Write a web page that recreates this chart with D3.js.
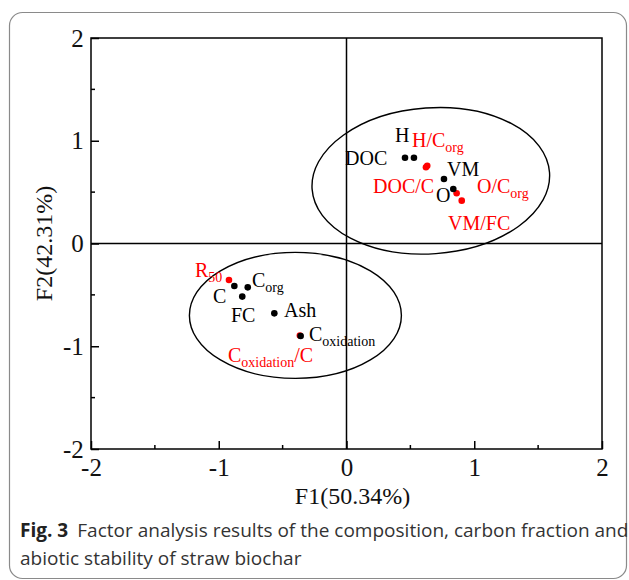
<!DOCTYPE html>
<html lang="en">
<head>
<meta charset="UTF-8">
<title>Factor analysis of straw biochar</title>
<script src="https://d3js.org/d3.v7.min.js"></script>
<style>
  body { margin: 0; background: #fff; }
  svg { display: block; }
  .tick-label { font-family: "Liberation Serif", "Times New Roman", serif; font-size: 25px; fill: #111; }
  .axis-title { font-family: "Liberation Serif", "Times New Roman", serif; font-size: 24px; fill: #111; }
  .pt-label { font-family: "Liberation Serif", "Times New Roman", serif; font-size: 20px; }
  .caption { font-family: "Open Sans", "Noto Sans", sans-serif; font-size: 19px; fill: #333; }
</style>
</head>
<body>
<div id="chart"></div>
<script>
  // variable names and their loadings on F1 / F2
  const blackNames = ["DOC", "H", "VM", "O", "R_C", "C_org", "FC", "Ash", "C_oxidation"];
  const blackF1 = [0.458, 0.528, 0.763, 0.836, -0.878, -0.773, -0.816, -0.565, -0.359];
  const blackF2 = [0.835, 0.835, 0.628, 0.530, -0.414, -0.427, -0.517, -0.680, -0.900];

  const redNames = ["H/C_org", "DOC/C", "O/C_org", "VM/FC", "R50", "C_oxidation/C"];
  const redF1 = [0.632, 0.622, 0.862, 0.902, -0.920, -0.365];
  const redF2 = [0.757, 0.742, 0.489, 0.417, -0.355, -0.895];

  const ticks = [-2, -1, 0, 1, 2];
  const minorTicks = [-1.5, -0.5, 0.5, 1.5];

  const width = 629, height = 580;
  const svg = d3.select("#chart").append("svg").attr("width", width).attr("height", height);

  // outer frame of the figure
  svg.append("rect")
    .attr("x", 9.5).attr("y", 12.5)
    .attr("width", 617).attr("height", 566)
    .attr("rx", 13)
    .attr("fill", "none").attr("stroke", "#8a8a8a").attr("stroke-width", 1.2);

  const x = d3.scaleLinear().domain([-2, 2]).range([91, 602]);
  const y = d3.scaleLinear().domain([-2, 2]).range([449, 38]);

  // zero lines
  svg.append("line").attr("x1", x(0)).attr("x2", x(0)).attr("y1", y(2)).attr("y2", y(-2))
    .attr("stroke", "#000").attr("stroke-width", 1.5);
  svg.append("line").attr("x1", x(-2)).attr("x2", x(2)).attr("y1", y(0)).attr("y2", y(0))
    .attr("stroke", "#000").attr("stroke-width", 1.5);

  // ellipses grouping the variables
  svg.append("ellipse")
    .attr("transform", `translate(${x(0.66)},${y(0.61)}) rotate(-4)`)
    .attr("rx", 119).attr("ry", 73)
    .attr("fill", "none").attr("stroke", "#000").attr("stroke-width", 1.4);
  svg.append("ellipse")
    .attr("transform", `translate(${x(-0.4)},${y(-0.7)})`)
    .attr("rx", 106).attr("ry", 63)
    .attr("fill", "none").attr("stroke", "#000").attr("stroke-width", 1.4);

  // axes: ticks pointing inward, labels only on integers
  const fmt = d => String(d);
  const xAxis = d3.axisBottom(x).tickValues(ticks).tickSizeInner(-8).tickSizeOuter(0).tickPadding(6).tickFormat(fmt);
  const yAxis = d3.axisLeft(y).tickValues(ticks).tickSizeInner(-8).tickSizeOuter(0).tickPadding(6).tickFormat(fmt);

  const gx = svg.append("g").attr("transform", `translate(0,${y(-2)})`).call(xAxis);
  const gy = svg.append("g").attr("transform", `translate(${x(-2)},0)`).call(yAxis);
  [gx, gy].forEach(g => {
    g.select(".domain").remove();
    g.selectAll("line").attr("stroke", "#000").attr("stroke-width", 1.5);
    g.selectAll("text").attr("class", "tick-label").attr("font-family", null).attr("font-size", null);
  });
  gx.selectAll("text").attr("dy", "0.85em");
  gy.selectAll("text").attr("dx", "-0.05em");

  gx.selectAll(".minor").data(minorTicks).join("line")
    .attr("x1", d => x(d)).attr("x2", d => x(d)).attr("y1", 0).attr("y2", -4)
    .attr("stroke", "#000").attr("stroke-width", 1.5);
  gy.selectAll(".minor").data(minorTicks).join("line")
    .attr("y1", d => y(d)).attr("y2", d => y(d)).attr("x1", 0).attr("x2", 4)
    .attr("stroke", "#000").attr("stroke-width", 1.5);

  // plot frame
  svg.append("rect")
    .attr("x", x(-2)).attr("y", y(2))
    .attr("width", x(2) - x(-2)).attr("height", y(-2) - y(2))
    .attr("fill", "none").attr("stroke", "#000").attr("stroke-width", 1.5);

  svg.append("text").attr("class", "axis-title")
    .attr("x", x(0) + 6).attr("y", 504).attr("text-anchor", "middle")
    .text("F1(50.34%)");
  svg.append("text").attr("class", "axis-title")
    .attr("transform", `translate(52,${y(0)}) rotate(-90)`).attr("text-anchor", "middle")
    .text("F2(42.31%)");

  // points
  svg.append("g").selectAll("circle").data(redNames).join("circle")
    .attr("cx", (d, i) => x(redF1[i])).attr("cy", (d, i) => y(redF2[i]))
    .attr("r", 3.3).attr("fill", "#f00");
  svg.append("g").selectAll("circle").data(blackNames).join("circle")
    .attr("cx", (d, i) => x(blackF1[i])).attr("cy", (d, i) => y(blackF2[i]))
    .attr("r", 3.3).attr("fill", "#000");

  // point labels: name, [main, subscript, tail], x, baseline y
  const labelColor = n => redNames.includes(n) ? "#f00" : "#000";
  const labels = [
    ["DOC", ["DOC", "", ""], 345, 165],
    ["H", ["H", "", ""], 395, 142],
    ["H/C_org", ["H/C", "org", ""], 412, 147],
    ["VM", ["VM", "", ""], 447, 176],
    ["DOC/C", ["DOC/C", "", ""], 373, 193],
    ["O", ["O", "", ""], 436, 202],
    ["O/C_org", ["O/C", "org", ""], 477, 193],
    ["VM/FC", ["VM/FC", "", ""], 448, 230],
    ["R50", ["R", "50", ""], 195, 277],
    ["R_C", ["C", "", ""], 213, 303],
    ["C_org", ["C", "org", ""], 252, 287],
    ["FC", ["FC", "", ""], 231, 322],
    ["Ash", ["Ash", "", ""], 284, 317],
    ["C_oxidation", ["C", "oxidation", ""], 309, 341],
    ["C_oxidation/C", ["C", "oxidation", "/C"], 228, 362]
  ];
  const lab = svg.append("g");
  labels.forEach(([name, parts, lx, ly]) => {
    const t = lab.append("text").attr("class", "pt-label")
      .attr("x", lx).attr("y", ly).attr("fill", labelColor(name));
    t.append("tspan").text(parts[0]);
    if (parts[1]) t.append("tspan").attr("dy", 5).attr("font-size", 14).text(parts[1]);
    if (parts[2]) t.append("tspan").attr("dy", -5).text(parts[2]);
  });

  // caption
  const cap = svg.append("g");
  const l1 = cap.append("text").attr("class", "caption").attr("x", 0).attr("y", 0);
  l1.append("tspan").attr("font-weight", "bold").attr("fill", "#222").text("Fig. 3");
  l1.append("tspan").attr("dx", 9).text("Factor analysis results of the composition, carbon fraction and");
  cap.append("text").attr("class", "caption").attr("x", 0).attr("y", 28)
    .text("abiotic stability of straw biochar");
  const sx = 600 / l1.node().getComputedTextLength();
  cap.attr("transform", `translate(20,537) scale(${sx},1)`);
</script>
</body>
</html>
